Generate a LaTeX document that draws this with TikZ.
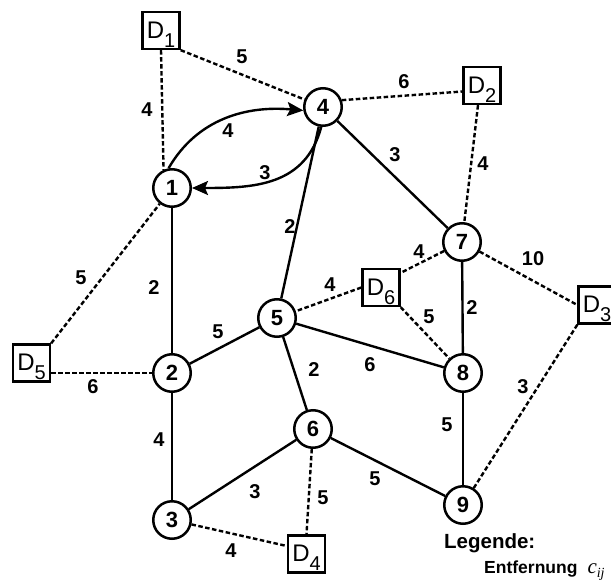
\documentclass[tikz,border=0pt]{standalone}
\usepackage{fontspec}
\setmainfont{Liberation Sans}
\newfontfamily\legendserif{Liberation Serif}
\usetikzlibrary{arrows.meta}

% depot label: letter D with a lowered index
\newcommand\depotname[1]{D\raisebox{-9pt}{\fontsize{20}{20}\selectfont #1}}

\begin{document}
\begin{tikzpicture}[x=1pt,y=-1pt,
  vertex/.style={circle,draw,line width=2.5pt,minimum size=37.5pt,inner sep=0pt,
    font=\fontsize{22}{22}\selectfont\bfseries},
  depot/.style={rectangle,draw,line width=2.3pt,minimum size=37pt,inner sep=0pt,
    text height=17pt,text depth=1.5pt,font=\fontsize{24}{24}\selectfont},
  road/.style={line width=2.4pt},
  link/.style={line width=2.4pt,dash pattern=on 4.5pt off 2.5pt},
  trip/.style={line width=2.4pt,-{Stealth[length=16pt,width=14pt,inset=3pt]}},
  cost/.style={inner sep=0pt,font=\fontsize{20}{20}\selectfont\bfseries}
]
\fill[white] (0,0) rectangle (611,581);
\useasboundingbox (0,0) rectangle (611,581);

% customers
\node[vertex] (n1) at (172,188) {1};
\node[vertex] (n2) at (172,373) {2};
\node[vertex] (n3) at (172,520) {3};
\node[vertex] (n4) at (323,107) {4};
\node[vertex] (n5) at (277,318) {5};
\node[vertex] (n6) at (313,429) {6};
\node[vertex] (n7) at (462,242) {7};
\node[vertex] (n8) at (463,373) {8};
\node[vertex] (n9) at (463,505) {9};

% depots
\node[depot] (D1) at (161,30.5) {\depotname{1}};
\node[depot] (D2) at (482,85.5) {\depotname{2}};
\node[depot] (D3) at (597,305) {\depotname{3}};
\node[depot] (D4) at (306.5,554) {\depotname{4}};
\node[depot] (D5) at (31.5,363) {\depotname{5}};
\node[depot] (D6) at (381,287.5) {\depotname{6}};

% road network
\draw[road] (n1) -- (n2);
\draw[road] (n2) -- (n3);
\draw[road] (n2) -- (n5);
\draw[road] (n4) -- (n5);
\draw[road] (n4) -- (n7);
\draw[road] (n7) -- (n8);
\draw[road] (n5) -- (n8);
\draw[road] (n5) -- (n6);
\draw[road] (n3) -- (n6);
\draw[road] (n6) -- (n9);
\draw[road] (n8) -- (n9);

% depot links
\draw[link] (D1.south) -- (n1.115);
\draw[link] (D1.south east) -- (n4.158);
\draw[link] (n4.20) -- ([yshift=-6pt]D2.west);
\draw[link] ([xshift=-4pt]D2.south) -- (n7);
\draw[link] (n7) -- ([yshift=-5pt]D6.north east);
\draw[link] (n7) -- (D3.west);
\draw[link] (D6.west) -- (n5);
\draw[link] (D6.south east) -- (n8);
\draw[link] (D5.north east) -- (n1);
\draw[link] (D5.east |- n2) -- (n2);
\draw[link] (D3.south west) -- (n9);
\draw[link] (n6) -- (D4.north);
\draw[link] (n3) -- ([yshift=8pt]D4.west);

% directed trips between 1 and 4
\draw[trip] (n1.100) to[out=60,in=175] (n4.190);
\draw[trip] (n4.-95) to[out=-105,in=0,looseness=1.1] (n1.east);

% distances
\node[cost] (c1) at (242,57) {5};
\node[cost] (c2) at (147,110) {4};
\node[cost] (c3) at (228,131) {4};
\node[cost] (c4) at (265,173) {3};
\node[cost] (c5) at (404,82) {6};
\node[cost] (c6) at (395,155) {3};
\node[cost] (c7) at (483,164) {4};
\node[cost] (c8) at (290,227) {2};
\node[cost] (c9) at (81,278) {5};
\node[cost] (c10) at (154,288) {2};
\node[cost] (c11) at (419,252) {4};
\node[cost] (c12) at (533,259) {10};
\node[cost] (c13) at (330,285) {4};
\node[cost] (c14) at (429,317) {5};
\node[cost] (c15) at (472,308) {2};
\node[cost] (c16) at (218,332) {5};
\node[cost] (c17) at (370,365) {6};
\node[cost] (c18) at (93,387) {6};
\node[cost] (c19) at (314,370) {2};
\node[cost] (c20) at (523,387) {3};
\node[cost] (c21) at (159,440) {4};
\node[cost] (c22) at (447,425) {5};
\node[cost] (c23) at (375,479) {5};
\node[cost] (c24) at (255,492) {3};
\node[cost] (c25) at (323,498) {5};
\node[cost] (c26) at (231,551) {4};

% legend
\node[anchor=west,inner sep=0pt,font=\fontsize{20.5}{20.5}\selectfont\bfseries]
  (legend) at (444,543) {Legende:};
\node[anchor=base west,inner sep=0pt,font=\fontsize{17.5}{17.5}\selectfont\bfseries]
  (legcost) at (484,573) {Entfernung\hspace{10pt}{\legendserif\mdseries\itshape\fontsize{21}{21}\selectfont c\raisebox{-4pt}{\fontsize{14}{14}\selectfont ij}}};
\end{tikzpicture}
\end{document}
